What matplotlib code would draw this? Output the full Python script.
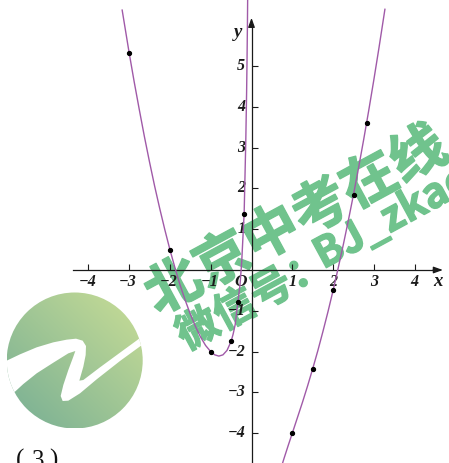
import numpy as np
import matplotlib.pyplot as plt
import matplotlib.patheffects as pe
from matplotlib.patches import Circle, Polygon

# 左支曲线上的点
left_x = [-3.17, -3.0, -2.875, -2.75, -2.625, -2.5, -2.375, -2.25, -2.125, -2.0, -1.875,
          -1.75, -1.625, -1.5, -1.375, -1.25, -1.125, -1.0, -0.9, -0.8, -0.7, -0.6,
          -0.5, -0.45, -0.4, -0.34, -0.28, -0.24, -0.2, -0.18, -0.16, -0.14, -0.12,
          -0.11, -0.1, -0.09]
left_y = [6.37, 5.33, 4.61, 3.93, 3.27, 2.65, 2.06, 1.51, 0.99, 0.50, 0.05,
          -0.37, -0.74, -1.08, -1.38, -1.64, -1.85, -2.0, -2.08, -2.11, -2.08, -1.97,
          -1.75, -1.57, -1.34, -0.83, -0.35, 0.2, 1.0, 1.4, 2.28, 3.16, 4.35,
          5.1, 6.0, 7.1]

# 右支曲线上的点
right_x = [0.75, 0.8, 0.9, 1.0, 1.125, 1.25, 1.375, 1.5, 1.625, 1.75, 1.875,
           2.0, 2.125, 2.25, 2.375, 2.5, 2.625, 2.75, 2.875, 3.0, 3.125, 3.27]
right_y = [-4.77, -4.61, -4.30, -4.0, -3.62, -3.24, -2.84, -2.42, -1.98, -1.51, -1.02,
           -0.5, 0.05, 0.62, 1.22, 1.85, 2.51, 3.2, 3.92, 4.67, 5.45, 6.39]

# 描出的点
dot_x = [-3, -2, -1, -0.5, -0.34, -0.18, 1, 1.5, 2, 2.5, 2.83]
dot_y = [5.33, 0.5, -2, -1.75, -0.78, 1.37, -4, -2.42, -0.5, 1.85, 3.6]

x_ticks = [-4, -3, -2, -1, 1, 2, 3, 4]
y_ticks = [-4, -3, -2, -1, 1, 2, 3, 4, 5]

W, H = 449, 463
ox, oy, unit = 251.5, 270, 40.8
k = '#1a1a1a'
purple = '#a05aa8'

fig = plt.figure(figsize=(W / 100, H / 100), dpi=100)

# 底层: 图标和水印
bg = fig.add_axes([0, 0, 1, 1])
bg.axis('off')

cx, cy, r = 74.7, 360.5, 68
circ = Circle((cx, cy), r, transform=bg.transData, facecolor='none', edgecolor='none')
bg.add_patch(circ)
gx, gy = np.meshgrid(np.linspace(0, 1, 200), np.linspace(0, 1, 200))
t = (gx + (1 - gy)) / 2
c0 = np.array([118, 174, 148]) / 255
c1 = np.array([202, 222, 150]) / 255
img = c0 + (c1 - c0) * t[..., None]
im = bg.imshow(img, extent=(cx - r, cx + r, cy + r, cy - r), interpolation='bilinear',
               aspect='auto', zorder=1)
im.set_clip_path(circ)

top_edge = [(-20, 225), (18, 213), (60, 193), (110, 172), (160, 157), (200, 149), (228, 146),
            (248, 152), (258, 168), (257, 195), (250, 230), (238, 272), (250, 270), (300, 232),
            (360, 188), (412, 150), (440, 128), (470, 110)]
bottom_edge = [(470, 145), (430, 162), (360, 213), (290, 268), (240, 310), (205, 332),
               (188, 333), (182, 318), (190, 285), (205, 240), (220, 200), (226, 183),
               (205, 190), (160, 218), (110, 250), (70, 282), (45, 305), (10, 335), (-20, 350)]
swoosh = [(px / 3, 290 + py / 3) for px, py in top_edge + bottom_edge]
wave = Polygon(swoosh, closed=True, facecolor='white', edgecolor='none', zorder=2)
bg.add_patch(wave)
wave.set_clip_path(circ)

green = '#70c38d'
mark = dict(fontweight='heavy', color=green, family=['Noto Sans CJK SC'],
            rotation_mode='anchor', ha='left', zorder=3,
            path_effects=[pe.withStroke(linewidth=1.0, foreground=green)])
bg.text(150, 301, '北京中考在线', fontsize=40, rotation=28.4, va='center', **mark)
bg.text(186, 350.5, '微信号：', fontsize=30, rotation=28.5, va='baseline', **mark)
bg.text(323, 269.5, 'BJ_zkao', fontsize=30, rotation=28.5, va='baseline', **mark)

# (3)
for ch, px in [('(', 20.5), ('3', 38), (')', 53)]:
    bg.text(px, 467, ch, fontsize=18, color='#111111',
            family='Liberation Serif', ha='center', va='baseline')

bg.set_xlim(0, W)
bg.set_ylim(H, 0)

# 坐标系
ax = fig.add_axes([0, 0, 1, 1])
ax.patch.set_visible(False)
ax.set_xlim(-ox / unit, (W - ox) / unit)
ax.set_ylim((oy - H) / unit, oy / unit)

for side in ['top', 'right']:
    ax.spines[side].set_visible(False)
ax.spines['bottom'].set_position(('data', 0))
ax.spines['left'].set_position(('data', 0))
ax.spines['bottom'].set_bounds(-4.37, 4.5)
ax.spines['left'].set_bounds(-4.8, 6.0)
for side in ['bottom', 'left']:
    ax.spines[side].set_color(k)
    ax.spines[side].set_linewidth(0.9)

ax.set_xticks(x_ticks)
ax.set_yticks(y_ticks)
ax.tick_params(direction='in', length=4, width=0.8, color=k,
               labelbottom=False, labelleft=False)

head = dict(arrowstyle='-|>,head_length=0.5,head_width=0.18', color=k, lw=0.9,
            mutation_scale=11, shrinkA=0, shrinkB=0)
ax.annotate('', xy=(4.69, 0), xytext=(4.45, 0), arrowprops=head)
ax.annotate('', xy=(0, 6.18), xytext=(0, 5.95), arrowprops=head)

lab = dict(family='Liberation Serif', style='italic', fontweight='bold', color=k)
for v in x_ticks:
    ax.annotate(str(v).replace('-', '\u2212'), (v, 0), xytext=(-0.8 if v < 0 else 0, -8.4),
                textcoords='offset points', ha='center', va='center', fontsize=11.5, **lab)
for v in y_ticks:
    ax.annotate(str(v).replace('-', '\u2212'), (0, v), xytext=(-4.5, 0),
                textcoords='offset points', ha='right', va='center', fontsize=11.5, **lab)
ax.annotate('O', (0, 0), xytext=(-7.6, -8.3), textcoords='offset points',
            ha='center', va='center', fontsize=12.5, **lab)
ax.annotate('x', (4.57, 0), xytext=(0, -8.4), textcoords='offset points',
            ha='center', va='center', fontsize=13.5, **lab)
ax.text(-0.33, 5.81, 'y', ha='center', va='center', fontsize=13.5, **lab)

# 函数图象
ax.plot(left_x, left_y, color=purple, lw=1.0, zorder=3)
ax.plot(right_x, right_y, color=purple, lw=1.0, zorder=3)
ax.plot(dot_x, dot_y, 'o', color='black', markersize=2.8, zorder=4)

fig.savefig('out.png', dpi=100)
